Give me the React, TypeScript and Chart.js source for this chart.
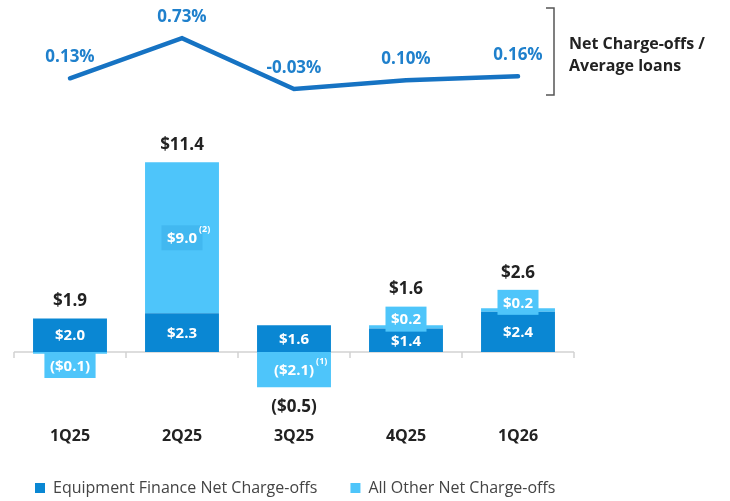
import React, { useEffect, useRef } from "react";
import { Chart, registerables } from "chart.js";

Chart.register(...registerables);

// ---- data ----
const categories = ["1Q25", "2Q25", "3Q25", "4Q25", "1Q26"];
const equipmentFinance = [2.0, 2.3, 1.6, 1.4, 2.4];
const allOther = [-0.1, 9.0, -2.1, 0.2, 0.2];
const totals = [1.9, 11.4, -0.5, 1.6, 2.6];
const ncoRatio = [0.13, 0.73, -0.03, 0.1, 0.16];
const otherFootnotes = ["", "(2)", "(1)", "", ""];
const seriesNames = ["Equipment Finance Net Charge-offs", "All Other Net Charge-offs"];
const ratioTitle = ["Net Charge-offs /", "Average loans"];

// ---- styles ----
const FONT = '"Open Sans", sans-serif';
const DARK = "#0a87d3";
const LIGHT = "#4ec5fa";
const LIGHT_BOX = "#42b8f0";
const LINE = "#1673c3";
const PCT = "#1f80cc";
const TEXT = "#222222";

const fmtMoney = (v: number) => (v < 0 ? `($${Math.abs(v).toFixed(1)})` : `$${v.toFixed(1)}`);
const fmtPct = (v: number) => `${v.toFixed(2)}%`;

const overlay = {
  id: "overlay",
  beforeDatasetsDraw(chart: any) {
    const { ctx, chartArea, scales } = chart;
    const xs = scales.x;
    const y0 = scales.y.getPixelForValue(0);
    const n = categories.length;
    ctx.save();
    ctx.strokeStyle = "#d2d2d2";
    ctx.lineWidth = 1.5;
    ctx.beginPath();
    ctx.moveTo(chartArea.left, y0);
    ctx.lineTo(chartArea.right, y0);
    for (let i = 0; i <= n; i++) {
      const px =
        i === 0
          ? chartArea.left
          : i === n
          ? chartArea.right
          : (xs.getPixelForValue(i - 1) + xs.getPixelForValue(i)) / 2;
      ctx.moveTo(px, y0);
      ctx.lineTo(px, y0 + 6);
    }
    ctx.stroke();
    ctx.restore();
  },
  afterDatasetsDraw(chart: any) {
    const { ctx } = chart;
    const m0 = chart.getDatasetMeta(0);
    const m1 = chart.getDatasetMeta(1);
    const m2 = chart.getDatasetMeta(2);
    ctx.save();
    ctx.textAlign = "center";
    ctx.textBaseline = "middle";

    const tops: number[] = [];
    const bottoms: number[] = [];

    // dark segment labels
    m0.data.forEach((bar: any, i: number) => {
      const { x, y, base } = bar.getProps(["x", "y", "base"], true);
      tops[i] = Math.min(y, base);
      bottoms[i] = Math.max(y, base);
      ctx.font = `bold 15px ${FONT}`;
      ctx.fillStyle = "#ffffff";
      ctx.fillText(fmtMoney(equipmentFinance[i]), x, (y + base) / 2 + 1);
    });

    // light segment labels
    m1.data.forEach((bar: any, i: number) => {
      const { x, y, base } = bar.getProps(["x", "y", "base"], true);
      const v = allOther[i];
      const h = Math.abs(base - y);
      const text = fmtMoney(v);
      ctx.font = `bold 15px ${FONT}`;
      const w = ctx.measureText(text).width;
      const bw = w + 11;
      const bh = 25;
      let cy: number;
      const inside = h >= bh + 4;
      if (inside) cy = (y + base) / 2;
      else if (v < 0) cy = base + bh / 2 + 1;
      else cy = y - 6;
      if (!inside || h > 60) {
        ctx.fillStyle = inside ? LIGHT_BOX : LIGHT;
        ctx.fillRect(x - bw / 2, cy - bh / 2, bw, bh);
      }
      tops[i] = Math.min(tops[i], y, base, inside ? y : cy - bh / 2);
      bottoms[i] = Math.max(bottoms[i], y, base, inside ? y : cy + bh / 2);
      ctx.fillStyle = "#ffffff";
      ctx.fillText(text, x, cy + 1);
      const fn = otherFootnotes[i];
      if (fn) {
        ctx.font = `bold 9px ${FONT}`;
        ctx.textAlign = "left";
        ctx.fillText(fn, x + w / 2 + 2, cy - 8);
        ctx.textAlign = "center";
      }
    });

    // totals
    ctx.font = `bold 17px ${FONT}`;
    ctx.fillStyle = TEXT;
    totals.forEach((t, i) => {
      const x = m0.data[i].x;
      if (t >= 0) ctx.fillText(fmtMoney(t), x, tops[i] - 17);
      else ctx.fillText(fmtMoney(t), x, bottoms[i] + 20);
    });

    // ratio labels
    ctx.fillStyle = PCT;
    ctx.font = `bold 17px ${FONT}`;
    m2.data.forEach((pt: any, i: number) => {
      ctx.fillText(fmtPct(ncoRatio[i]), pt.x, pt.y - 21);
    });
    ctx.restore();
  },
  afterDraw(chart: any) {
    const { ctx, chartArea } = chart;
    const bx = chartArea.right - 20;
    ctx.save();
    ctx.strokeStyle = "#555555";
    ctx.lineWidth = 1.5;
    ctx.beginPath();
    ctx.moveTo(bx - 8, 8);
    ctx.lineTo(bx, 8);
    ctx.lineTo(bx, 95);
    ctx.lineTo(bx - 8, 95);
    ctx.stroke();
    ctx.fillStyle = TEXT;
    ctx.font = `bold 16px ${FONT}`;
    ctx.textAlign = "left";
    ctx.textBaseline = "middle";
    ctx.fillText(ratioTitle[0], bx + 15, 44);
    ctx.fillText(ratioTitle[1], bx + 15, 66);
    ctx.restore();
  },
};

export default function App() {
  const ref = useRef<HTMLCanvasElement | null>(null);
  useEffect(() => {
    document.body.style.margin = "0";
    if (!ref.current) return;
    const chart = new Chart(ref.current, {
      type: "bar",
      data: {
        labels: categories,
        datasets: [
          {
            label: seriesNames[0],
            data: equipmentFinance,
            backgroundColor: DARK,
            borderWidth: 0,
            yAxisID: "y",
            stack: "s",
            order: 2,
          },
          {
            label: seriesNames[1],
            data: allOther,
            backgroundColor: LIGHT,
            borderWidth: 0,
            yAxisID: "y",
            stack: "s",
            order: 2,
          },
          {
            type: "line",
            label: ratioTitle.join(" "),
            data: ncoRatio,
            borderColor: LINE,
            backgroundColor: LINE,
            borderWidth: 4.5,
            pointRadius: 0,
            borderCapStyle: "round",
            borderJoinStyle: "miter",
            tension: 0,
            yAxisID: "y2",
            order: 1,
          } as any,
        ],
      },
      plugins: [overlay],
      options: {
        responsive: false,
        animation: false,
        events: [],
        layout: { padding: { top: 30, left: 2, right: 0, bottom: -5 } },
        datasets: { bar: { categoryPercentage: 1, barPercentage: 0.66 } } as any,
        scales: {
          x: {
            stacked: true,
            grid: { display: false, drawTicks: false },
            border: { display: false },
            ticks: { font: { family: FONT, size: 16, weight: "bold" }, color: TEXT, padding: 12 },
            afterFit: (s: any) => {
              s.height = 32;
            },
          },
          y: {
            display: true,
            stacked: true,
            min: -3.75,
            max: 19.17,
            grid: { display: false, drawTicks: false },
            border: { display: false },
            ticks: { display: false },
            afterFit: (s: any) => {
              s.width = 12;
            },
          },
          y2: {
            position: "right",
            display: true,
            min: -4.896,
            max: 0.8506,
            grid: { display: false, drawTicks: false },
            border: { display: false },
            ticks: { display: false },
            afterFit: (s: any) => {
              s.width = 156;
            },
          },
        },
        plugins: {
          tooltip: { enabled: false },
          legend: {
            position: "bottom",
            align: "start",
            labels: {
              boxWidth: 10,
              boxHeight: 10,
              padding: 33,
              color: "#444444",
              font: { family: FONT, size: 16 },
              filter: (item: any) => item.datasetIndex < 2,
            },
          },
        },
      } as any,
    });
    return () => chart.destroy();
  }, []);
  return (
    <div style={{ width: 730, height: 501 }}>
      <canvas ref={ref} width={730} height={501} />
    </div>
  );
}
